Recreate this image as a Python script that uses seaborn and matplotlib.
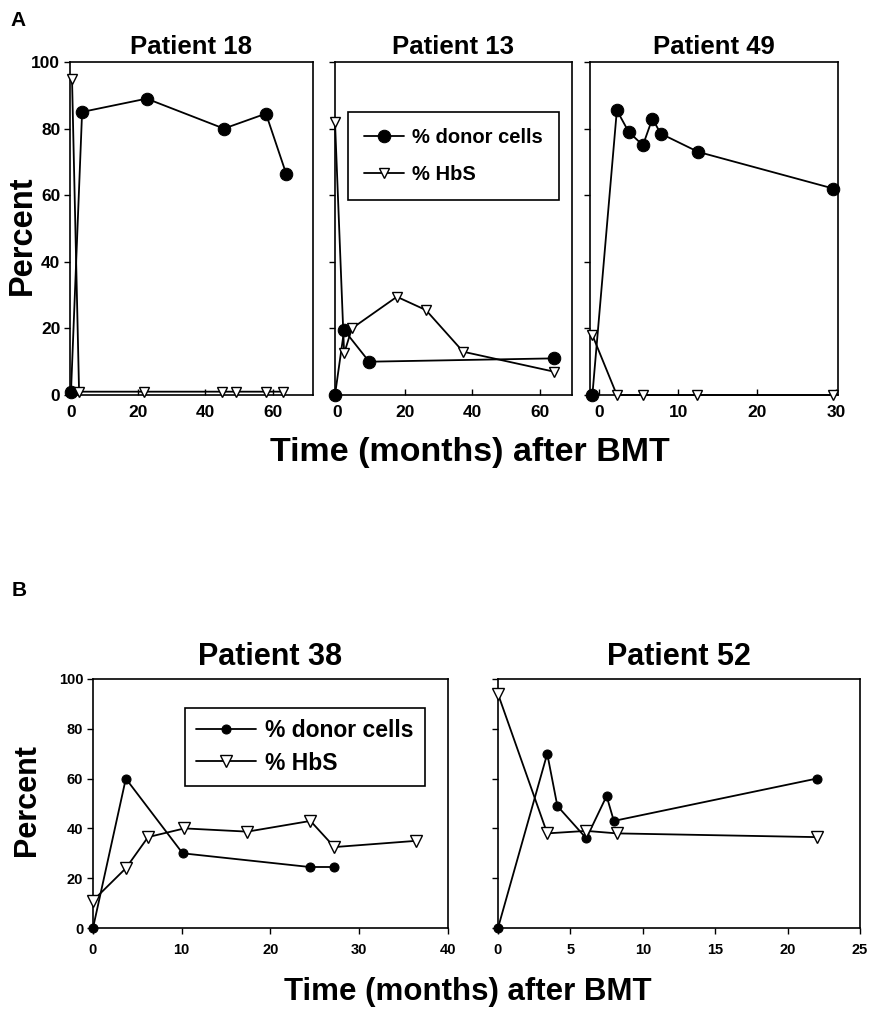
import numpy as np
import pandas as pd
import matplotlib
matplotlib.use("Agg")
import matplotlib.pyplot as plt
import seaborn as sns

# ---- data (months after BMT, percent) ----
# Panel A
p18_donor_t = [0, 3.3, 22.5, 45.5, 58, 64]
p18_donor = [1, 85, 89, 80, 84.5, 66.5]
p18_hbs_t = [0.3, 2.4, 21.7, 45, 49, 58, 63]
p18_hbs = [95, 1, 1, 1, 1, 1, 1]

p13_donor_t = [-0.6, 2.1, 9.5, 64.2]
p13_donor = [0, 19.5, 10, 11]
p13_hbs_t = [-0.6, 2.1, 4.4, 17.7, 26.3, 37.3, 64.2]
p13_hbs = [82, 12.5, 20, 29.5, 25.5, 13, 7]

p49_donor_t = [-0.9, 2.2, 3.7, 5.5, 6.7, 7.75, 12.5, 29.6]
p49_donor = [0, 85.5, 79, 75, 83, 78.5, 73, 62]
p49_hbs_t = [-0.9, 2.2, 5.5, 12.3, 29.6]
p49_hbs = [18, 0, 0, 0, 0]

# Panel B
p38_donor_t = [0, 3.7, 10.1, 24.4, 27.2]
p38_donor = [0, 60, 30, 24.5, 24.5]
p38_hbs_t = [0, 3.7, 6.2, 10.3, 17.4, 24.5, 27.2, 36.4]
p38_hbs = [11, 24, 36.5, 40, 38.7, 43, 32.5, 35]

p52_donor_t = [0, 3.4, 4.1, 6.1, 7.5, 8.0, 22]
p52_donor = [0, 70, 49, 36, 53, 43, 60]
p52_hbs_t = [0, 3.4, 6.1, 8.2, 22]
p52_hbs = [94, 38, 39, 38, 36.5]

sns.set_style("ticks")
plt.rcParams['font.family'] = ['Liberation Sans', 'DejaVu Sans']
plt.rcParams['font.weight'] = 'bold'
plt.rcParams['axes.linewidth'] = 1.2
for key in ['text.color', 'axes.labelcolor', 'xtick.color', 'ytick.color',
            'axes.edgecolor']:
    plt.rcParams[key] = 'black'


def draw_series(ax, t, v, kind, ms):
    df = pd.DataFrame({'t': t, 'v': v})
    if kind == 'donor':
        sns.lineplot(data=df, x='t', y='v', ax=ax, estimator=None, sort=False,
                     color='black', lw=1.3, marker='o', markersize=ms,
                     markerfacecolor='black', markeredgecolor='black',
                     clip_on=False, zorder=4, label='% donor cells')
    else:
        sns.lineplot(data=df, x='t', y='v', ax=ax, estimator=None, sort=False,
                     color='black', lw=1.3, marker='v', markersize=ms,
                     markerfacecolor='white', markeredgecolor='black',
                     markeredgewidth=1.0, clip_on=False, zorder=5,
                     label='% HbS')


def style_axes(ax, title, xlim, xticks, show_ylabels, tick_fs, title_fs,
               title_pad, xdir):
    ax.set_xlim(*xlim)
    ax.set_ylim(0, 100)
    ax.set_xticks(xticks)
    ax.set_yticks([0, 20, 40, 60, 80, 100])
    ax.set_xlabel('')
    ax.set_ylabel('')
    ax.set_title(title, fontsize=title_fs, fontweight='bold', pad=title_pad,
                 color='black')
    for s in ax.spines.values():
        s.set_visible(True)
        s.set_color('black')
        s.set_linewidth(1.2)
    ax.tick_params(axis='x', direction=xdir, length=4, width=1,
                   labelsize=tick_fs, pad=7, colors='black')
    ax.tick_params(axis='y', direction='out', length=4, width=1,
                   labelsize=tick_fs, pad=3, colors='black')
    if not show_ylabels:
        ax.set_yticklabels([])
    for lab in ax.get_xticklabels() + ax.get_yticklabels():
        lab.set_fontweight('bold')


fig = plt.figure(figsize=(8.78, 10.10), dpi=100)
W, H = 878.0, 1010.0


def add_ax(x0, x1, ytop, ybot):
    return fig.add_axes([x0 / W, 1 - ybot / H, (x1 - x0) / W, (ybot - ytop) / H])


# ---- Panel A ----
ax18 = add_ax(70, 313, 62, 395)
ax13 = add_ax(335, 572, 62, 395)
ax49 = add_ax(590, 838, 62, 395)

panel_a = [
    (ax18, 'Patient 18', p18_donor_t, p18_donor, p18_hbs_t, p18_hbs, (-0.3, 72), [0, 20, 40, 60], True),
    (ax13, 'Patient 13', p13_donor_t, p13_donor, p13_hbs_t, p13_hbs, (-0.6, 69.5), [0, 20, 40, 60], False),
    (ax49, 'Patient 49', p49_donor_t, p49_donor, p49_hbs_t, p49_hbs, (-1.2, 30.2), [0, 10, 20, 30], False),
]
for ax, title, dt, dv, ht, hv, xl, xt, showy in panel_a:
    draw_series(ax, dt, dv, 'donor', 9)
    draw_series(ax, ht, hv, 'hbs', 7)
    style_axes(ax, title, xl, xt, showy, 12.5, 18.5, 6, 'in')
    ax.get_legend().remove()

leg = ax13.legend(loc='upper left', bbox_to_anchor=(0.055, 0.85), borderaxespad=0,
                  frameon=True, fancybox=False, edgecolor='black',
                  handlelength=2.0, handletextpad=0.4, borderpad=0.8,
                  labelspacing=0.9, prop={'weight': 'bold', 'size': 14.5})
leg.get_frame().set_linewidth(1.2)
leg.get_frame().set_alpha(1)
leg.set_zorder(10)

fig.text(470 / W, 1 - 452 / H, 'Time (months) after BMT', ha='center', va='center',
         fontsize=24.5, fontweight='bold')
fig.text(22 / W, 1 - 235 / H, 'Percent', ha='center', va='center', rotation=90,
         fontsize=23.5, fontweight='bold')
fig.text(10 / W, 1 - 20 / H, 'A', ha='left', va='center', fontsize=15, fontweight='bold')

# ---- Panel B ----
ax38 = add_ax(93, 448, 679, 928)
ax52 = add_ax(498, 860, 679, 928)

panel_b = [
    (ax38, 'Patient 38', p38_donor_t, p38_donor, p38_hbs_t, p38_hbs, (0, 40), [0, 10, 20, 30, 40], True),
    (ax52, 'Patient 52', p52_donor_t, p52_donor, p52_hbs_t, p52_hbs, (0, 25), [0, 5, 10, 15, 20, 25], False),
]
for ax, title, dt, dv, ht, hv, xl, xt, showy in panel_b:
    draw_series(ax, dt, dv, 'donor', 6.5)
    draw_series(ax, ht, hv, 'hbs', 8)
    style_axes(ax, title, xl, xt, showy, 10.5, 22, 10, 'out')
    ax.get_legend().remove()

leg = ax38.legend(loc='upper left', bbox_to_anchor=(0.259, 0.884), borderaxespad=0,
                  frameon=True, fancybox=False, edgecolor='black',
                  handlelength=2.6, handletextpad=0.4, borderpad=0.5,
                  labelspacing=0.4, prop={'weight': 'bold', 'size': 16.5})
leg.get_frame().set_linewidth(1.2)
leg.get_frame().set_alpha(1)
leg.set_zorder(10)

fig.text(468 / W, 1 - 992 / H, 'Time (months) after BMT', ha='center', va='center',
         fontsize=22.5, fontweight='bold')
fig.text(27 / W, 1 - 800 / H, 'Percent', ha='center', va='center', rotation=90,
         fontsize=22, fontweight='bold')
fig.text(12 / W, 1 - 590 / H, 'B', ha='left', va='center', fontsize=15, fontweight='bold')

fig.savefig('out.png', dpi=100)
